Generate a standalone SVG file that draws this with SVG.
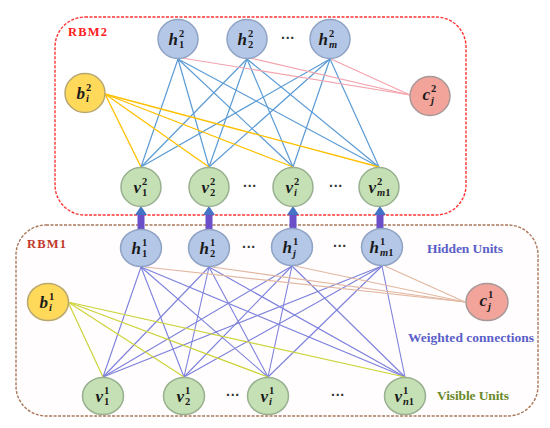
<svg xmlns="http://www.w3.org/2000/svg" width="550" height="428" viewBox="0 0 550 428">
<style>
.box2{fill:#ffffff;stroke:#ff3333;stroke-width:1.4;stroke-dasharray:3 1.5}
.box1{fill:#fffdfd;stroke:#a8775a;stroke-width:1.4;stroke-dasharray:3 1.5}
.hn{fill:#b4c7e7;stroke:#8fa3c4;stroke-width:1.5}
.vn{fill:#c5e0b4;stroke:#98b090;stroke-width:1.5}
.bn{fill:#ffd95a;stroke:#b8a870;stroke-width:1.5}
.cn{fill:#f2a39a;stroke:#a89898;stroke-width:1.5}
.m{font-family:"Liberation Serif",serif;font-weight:bold;font-style:italic;fill:#1a1a1a}
.L{font-size:17px}
.s{font-size:10.5px;font-style:normal}
.s.it,.it{font-style:italic}
.dots{font-family:"Liberation Sans",sans-serif;font-size:14px;font-weight:bold;fill:#333;text-anchor:middle}
.lbl{font-family:"Liberation Serif",serif;font-weight:bold}
.w2{stroke:#5b9bd5;stroke-width:1.2;fill:none}
.o2{stroke:#ffc000;stroke-width:1.3;fill:none}
.p2{stroke:#f4a3ac;stroke-width:1.2;fill:none}
.w1{stroke:#7c80dc;stroke-width:1.1;fill:none}
.y1{stroke:#cdd43a;stroke-width:1.2;fill:none}
.t1{stroke:#e2b8a2;stroke-width:1.2;fill:none}
.shaft{fill:#6a4fc8}
.head{fill:#4472c4}
</style>
<g id="rbm2-box"><rect class="box2" x="55" y="17" width="411" height="198" rx="30"/>
<text class="lbl" x="68" y="36" font-size="12.5" fill="#ff2020" textLength="39">RBM2</text></g>
<g id="rbm1-box"><rect class="box1" x="16" y="225" width="522" height="191" rx="30"/>
<text class="lbl" x="27" y="248" font-size="12.5" fill="#c0392b" textLength="39">RBM1</text></g>
<g id="connectors">
<line class="w2" x1="178" y1="59" x2="141" y2="167"/><line class="w2" x1="178" y1="59" x2="209" y2="167"/><line class="w2" x1="178" y1="59" x2="293" y2="167"/><line class="w2" x1="178" y1="59" x2="379" y2="167"/>
<line class="w2" x1="247" y1="59" x2="141" y2="167"/><line class="w2" x1="247" y1="59" x2="209" y2="167"/><line class="w2" x1="247" y1="59" x2="293" y2="167"/><line class="w2" x1="247" y1="59" x2="379" y2="167"/>
<line class="w2" x1="330" y1="59" x2="141" y2="167"/><line class="w2" x1="330" y1="59" x2="209" y2="167"/><line class="w2" x1="330" y1="59" x2="293" y2="167"/><line class="w2" x1="330" y1="59" x2="379" y2="167"/>
<line class="o2" x1="105" y1="94" x2="141" y2="167"/><line class="o2" x1="105" y1="94" x2="209" y2="167"/><line class="o2" x1="105" y1="94" x2="293" y2="167"/><line class="o2" x1="105" y1="94" x2="379" y2="167"/>
<line class="p2" x1="410" y1="95" x2="182" y2="58"/><line class="p2" x1="410" y1="95" x2="250" y2="58"/><line class="p2" x1="410" y1="95" x2="331" y2="59"/>
<line class="w1" x1="141" y1="267" x2="103" y2="377"/><line class="w1" x1="141" y1="267" x2="184" y2="377"/><line class="w1" x1="141" y1="267" x2="268" y2="377"/><line class="w1" x1="141" y1="267" x2="405" y2="377"/>
<line class="w1" x1="209" y1="267" x2="103" y2="377"/><line class="w1" x1="209" y1="267" x2="184" y2="377"/><line class="w1" x1="209" y1="267" x2="268" y2="377"/><line class="w1" x1="209" y1="267" x2="405" y2="377"/>
<line class="w1" x1="292" y1="266" x2="103" y2="377"/><line class="w1" x1="292" y1="266" x2="184" y2="377"/><line class="w1" x1="292" y1="266" x2="268" y2="377"/><line class="w1" x1="292" y1="266" x2="405" y2="377"/>
<line class="w1" x1="382" y1="266" x2="103" y2="377"/><line class="w1" x1="382" y1="266" x2="184" y2="377"/><line class="w1" x1="382" y1="266" x2="268" y2="377"/><line class="w1" x1="382" y1="266" x2="405" y2="377"/>
<line class="y1" x1="68" y1="302" x2="103" y2="377"/><line class="y1" x1="68" y1="302" x2="184" y2="377"/><line class="y1" x1="68" y1="302" x2="268" y2="377"/><line class="y1" x1="68" y1="302" x2="405" y2="377"/>
<line class="t1" x1="465" y1="302" x2="145" y2="267"/><line class="t1" x1="465" y1="302" x2="212" y2="267"/><line class="t1" x1="465" y1="302" x2="295" y2="266"/><line class="t1" x1="465" y1="302" x2="385" y2="266"/>
<rect class="shaft" x="137.5" y="213" width="7" height="17"/><polygon class="head" points="135,215 141,206 147,215"/>
<rect class="shaft" x="205.5" y="213" width="7" height="17"/><polygon class="head" points="203,215 209,206 215,215"/>
<rect class="shaft" x="289.5" y="213" width="7" height="16"/><polygon class="head" points="287,215 293,206 299,215"/>
<rect class="shaft" x="376.5" y="213" width="7" height="16"/><polygon class="head" points="374,215 380,206 386,215"/>
</g>
<g id="h2-1"><ellipse class="hn" cx="178" cy="39" rx="20" ry="19.5"/><text class="m L" x="178" y="45" text-anchor="end">h</text><text class="m s" x="179" y="37">2</text><text class="m s" x="179" y="48">1</text></g>
<g id="h2-2"><ellipse class="hn" cx="247" cy="39" rx="20" ry="19.5"/><text class="m L" x="247" y="45" text-anchor="end">h</text><text class="m s" x="248" y="37">2</text><text class="m s" x="248" y="48">2</text></g>
<g id="h2-m"><ellipse class="hn" cx="330" cy="39" rx="20" ry="19.5"/><text class="m L" x="328" y="45" text-anchor="end">h</text><text class="m s" x="329" y="37">2</text><text class="m s it" x="329" y="48">m</text></g>
<text class="dots" x="288" y="43">···</text>
<g id="b2"><ellipse class="bn" cx="85" cy="93" rx="20" ry="19.5"/><text class="m L" x="85" y="99" text-anchor="end">b</text><text class="m s" x="86" y="91">2</text><text class="m s it" x="86" y="102">i</text></g>
<g id="c2"><ellipse class="cn" cx="430" cy="96" rx="20" ry="19.5"/><text class="m L" x="430" y="100" text-anchor="end">c</text><text class="m s" x="431" y="92">2</text><text class="m s it" x="431" y="104">j</text></g>
<g id="v2-1"><ellipse class="vn" cx="141" cy="187" rx="20" ry="19.5"/><text class="m L" x="141" y="193" text-anchor="end">v</text><text class="m s" x="142" y="185">2</text><text class="m s" x="142" y="196">1</text></g>
<g id="v2-2"><ellipse class="vn" cx="209" cy="187" rx="20" ry="19.5"/><text class="m L" x="209" y="193" text-anchor="end">v</text><text class="m s" x="210" y="185">2</text><text class="m s" x="210" y="196">2</text></g>
<g id="v2-i"><ellipse class="vn" cx="293" cy="187" rx="20" ry="19.5"/><text class="m L" x="293" y="193" text-anchor="end">v</text><text class="m s" x="294" y="185">2</text><text class="m s it" x="294" y="196">i</text></g>
<g id="v2-m1"><ellipse class="vn" cx="379" cy="187" rx="20" ry="19.5"/><text class="m L" x="376" y="193" text-anchor="end">v</text><text class="m s" x="377" y="185">2</text><text class="m s" x="377" y="196"><tspan class="it">m</tspan>1</text></g>
<text class="dots" x="250" y="191">···</text>
<text class="dots" x="336" y="191">···</text>
<g id="h1-1"><ellipse class="hn" cx="141" cy="248" rx="20.5" ry="18.5"/><text class="m L" x="141" y="254" text-anchor="end">h</text><text class="m s" x="142" y="246">1</text><text class="m s" x="142" y="257">1</text></g>
<g id="h1-2"><ellipse class="hn" cx="209" cy="248" rx="20.5" ry="18.5"/><text class="m L" x="209" y="254" text-anchor="end">h</text><text class="m s" x="210" y="246">1</text><text class="m s" x="210" y="257">2</text></g>
<g id="h1-j"><ellipse class="hn" cx="292" cy="247" rx="20.5" ry="18.5"/><text class="m L" x="292" y="253" text-anchor="end">h</text><text class="m s" x="293" y="245">1</text><text class="m s it" x="293" y="257">j</text></g>
<g id="h1-m1"><ellipse class="hn" cx="382" cy="247" rx="20.5" ry="18.5"/><text class="m L" x="379" y="253" text-anchor="end">h</text><text class="m s" x="380" y="245">1</text><text class="m s" x="380" y="256"><tspan class="it">m</tspan>1</text></g>
<text class="dots" x="249" y="252">···</text>
<text class="dots" x="340" y="251">···</text>
<g id="b1"><ellipse class="bn" cx="48" cy="302" rx="20.5" ry="18.5"/><text class="m L" x="48" y="308" text-anchor="end">b</text><text class="m s" x="49" y="300">1</text><text class="m s it" x="49" y="311">i</text></g>
<g id="c1"><ellipse class="cn" cx="487" cy="302" rx="21" ry="18.5"/><text class="m L" x="487" y="306" text-anchor="end">c</text><text class="m s" x="488" y="298">1</text><text class="m s it" x="488" y="310">j</text></g>
<g id="v1-1"><ellipse class="vn" cx="103" cy="396" rx="20.5" ry="18.5"/><text class="m L" x="103" y="402" text-anchor="end">v</text><text class="m s" x="104" y="394">1</text><text class="m s" x="104" y="405">1</text></g>
<g id="v1-2"><ellipse class="vn" cx="184" cy="396" rx="20.5" ry="18.5"/><text class="m L" x="184" y="402" text-anchor="end">v</text><text class="m s" x="185" y="394">1</text><text class="m s" x="185" y="405">2</text></g>
<g id="v1-i"><ellipse class="vn" cx="268" cy="396" rx="20.5" ry="18.5"/><text class="m L" x="268" y="402" text-anchor="end">v</text><text class="m s" x="269" y="394">1</text><text class="m s it" x="269" y="405">i</text></g>
<g id="v1-n1"><ellipse class="vn" cx="405" cy="396" rx="20.5" ry="18.5"/><text class="m L" x="402" y="402" text-anchor="end">v</text><text class="m s" x="403" y="394">1</text><text class="m s" x="403" y="405"><tspan class="it">n</tspan>1</text></g>
<text class="dots" x="233" y="400">···</text>
<text class="dots" x="338" y="400">···</text>
<g id="legend">
<text class="lbl" x="427" y="253" font-size="13.5" fill="#5a60c8" textLength="76">Hidden Units</text>
<text class="lbl" x="408" y="342" font-size="13.5" fill="#5a60c8" textLength="126">Weighted connections</text>
<text class="lbl" x="437" y="400" font-size="13.5" fill="#6a8a2a" textLength="72">Visible Units</text>
</g>
</svg>
